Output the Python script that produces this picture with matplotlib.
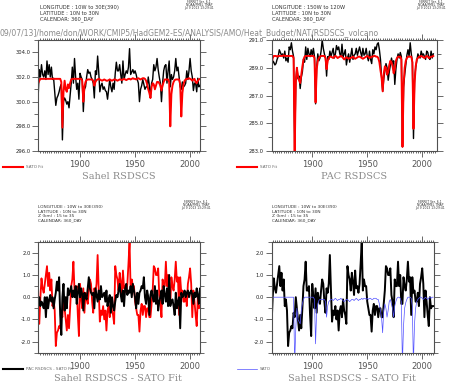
import numpy as np
import matplotlib
matplotlib.use("Agg")
import matplotlib.pyplot as plt
from matplotlib.ticker import MultipleLocator, FormatStrFormatter
from matplotlib.lines import Line2D

W, H = 450, 382

years = np.arange(1862, 2011)

# Sahel RSDSCS (top left, black)
sahel_rsds = [
    300.5, 302.6, 302.0, 303.0, 302.2, 302.0, 302.5, 301.8, 303.3, 302.2,
    303.0, 302.0, 302.8, 301.8, 301.9, 300.8, 299.7, 300.3, 300.5, 300.8,
    301.2, 301.4, 296.9, 300.0, 300.3, 300.1, 299.8, 300.0, 299.5, 300.5,
    301.5, 302.8, 301.5, 303.5, 302.0, 301.0, 301.5, 300.2, 302.3, 302.0,
    301.8, 299.2, 301.0, 301.2, 302.0, 302.6, 302.3, 302.4, 302.0, 301.8,
    301.5, 300.3, 302.5, 302.2, 303.7, 302.4, 300.8, 301.3, 301.5, 301.0,
    301.2, 300.9, 300.8, 300.2, 301.0, 301.8, 301.2, 300.8, 301.5, 301.0,
    302.3, 303.2, 302.5, 302.5, 303.0, 302.2, 301.5, 303.3, 301.8, 302.2,
    302.5, 302.3, 302.8, 304.3, 302.2, 302.4, 302.6, 302.3, 302.5, 302.2,
    301.8, 301.5, 300.0, 301.0, 301.3, 301.8, 301.4, 301.0, 301.2, 301.2,
    302.0, 301.3, 300.3, 301.5, 301.8, 303.0, 302.5, 302.8, 303.5, 302.6,
    302.0, 301.5, 300.0, 301.5, 302.5, 302.9, 303.0, 301.5, 302.5, 303.3,
    301.2, 302.2, 301.8, 302.0, 302.5, 303.5, 302.5, 302.8, 302.0, 301.2,
    301.0, 301.6, 301.2, 301.3, 301.5, 302.5, 301.8, 302.5, 303.5, 302.5,
    302.0, 300.9, 301.5, 301.5, 300.8, 301.9, 301.2, 301.3, 301.5,
]

# SATO fit for Sahel (top left, red)
sahel_fit = [
    301.5, 301.7, 301.85, 301.85, 301.85, 301.85, 301.85, 301.85, 301.85, 301.85,
    301.85, 301.85, 301.85, 301.85, 301.85, 301.85, 301.85, 301.85, 301.85, 301.85,
    301.85, 301.6, 297.9, 300.8, 301.7, 301.0, 300.8, 301.4, 301.1, 301.5,
    301.8, 301.85, 301.85, 301.85, 301.85, 301.85, 301.85, 301.85, 301.85, 301.85,
    301.7, 300.0, 301.2, 301.6, 301.75, 301.8, 301.8, 301.8, 301.8, 301.8,
    301.7, 301.3, 301.6, 301.75, 301.8, 301.85, 301.8, 301.75, 301.7, 301.75,
    301.8, 301.75, 301.7, 301.7, 301.75, 301.8, 301.75, 301.7, 301.75, 301.8,
    301.8, 301.75, 301.7, 301.75, 301.8, 301.8, 301.75, 301.8, 301.85, 301.8,
    301.75, 301.8, 301.85, 301.85, 301.8, 301.85, 301.9, 301.85, 301.85, 301.8,
    301.85, 301.9, 301.85, 301.8, 301.85, 301.9, 301.9, 301.85, 301.7, 301.4,
    301.0, 300.7, 300.3, 301.2, 301.5, 301.4, 301.0, 301.3, 301.6, 301.6,
    301.5, 301.3, 300.9, 301.3, 301.6, 301.8, 301.8, 301.8, 301.8, 301.6,
    298.0, 300.6, 301.3, 301.6, 301.75, 301.8, 301.8, 301.8, 301.8, 301.4,
    298.8, 300.7, 301.4, 301.7, 301.8, 301.85, 301.85, 301.9, 301.85, 301.8,
    301.7, 301.8, 301.85, 301.6, 301.5, 301.7, 301.8, 301.85, 301.85,
]

# PAC RSDSCS (top right, black)
pac_rsds = [
    288.6, 288.7, 289.5, 289.4, 289.2, 289.3, 289.6, 289.8, 290.3, 290.1,
    289.9, 290.0, 289.7, 290.2, 289.5, 289.7, 289.4, 290.5, 290.3, 290.8,
    290.2, 289.8, 282.9, 288.0, 289.0, 288.2, 288.4, 287.5, 288.3, 288.7,
    289.6, 289.4, 290.5, 289.6, 290.4, 290.0, 289.8, 290.3, 289.9, 290.4,
    289.8, 286.4, 289.0, 290.0, 289.5, 289.7, 290.2, 291.0, 290.4, 290.0,
    289.7, 288.4, 289.8, 289.6, 290.2, 289.8, 290.1, 290.4, 289.7, 290.0,
    290.6, 290.3, 290.5, 290.0, 289.8, 290.7, 289.8, 290.0, 290.3, 289.2,
    289.7, 290.0, 289.4, 289.9, 290.4, 289.6, 289.9, 290.0, 290.4, 289.9,
    290.2, 290.5, 290.1, 289.8, 290.4, 289.9, 290.0, 290.4, 289.8, 289.5,
    290.2, 289.6, 289.3, 290.3, 290.0, 290.5, 290.3, 290.7, 290.8, 290.3,
    289.6, 288.3, 287.3, 288.2, 288.8, 289.3, 289.0, 288.1, 288.7, 289.2,
    289.7, 289.3, 289.5, 287.8, 288.9, 289.6, 290.0, 289.7, 290.1, 289.8,
    283.3, 287.6, 288.5, 289.2, 289.9, 290.3, 289.8, 290.8, 290.0, 289.4,
    283.9, 288.2, 289.0, 289.5, 290.0, 289.8, 289.7, 290.2, 289.9, 290.0,
    289.8, 289.6, 290.2, 290.1, 289.7, 289.6, 290.2, 289.7, 290.0,
]

# SATO fit for PAC (top right, red)
pac_fit = [
    289.1, 289.3, 289.7, 289.85, 289.85, 289.85, 289.8, 289.85, 289.85, 289.85,
    289.85, 289.85, 289.9, 289.85, 289.85, 289.85, 289.85, 289.85, 289.85, 289.85,
    289.85, 289.7, 282.9, 288.0, 289.0, 288.4, 288.1, 287.9, 288.5, 289.1,
    289.6, 289.8, 289.85, 289.85, 289.85, 289.85, 289.85, 289.85, 289.85, 289.85,
    289.7, 286.5, 288.9, 289.5, 289.7, 289.8, 289.85, 289.85, 289.85, 289.85,
    289.7, 288.9, 289.5, 289.7, 289.8, 289.8, 289.75, 289.7, 289.8, 289.85,
    289.8, 289.7, 289.75, 289.8, 289.85, 289.8, 289.7, 289.6, 289.7, 289.75,
    289.7, 289.65, 289.7, 289.7, 289.75, 289.8, 289.7, 289.65, 289.7, 289.75,
    289.8, 289.8, 289.75, 289.7, 289.65, 289.7, 289.75, 289.8, 289.85, 289.8,
    289.7, 289.75, 289.8, 289.8, 289.85, 289.85, 289.8, 289.8, 289.7, 289.4,
    288.8, 288.3, 287.3, 288.6, 289.1, 289.0, 288.5, 288.7, 289.2, 289.5,
    289.4, 289.1, 288.6, 288.9, 289.5, 289.7, 289.8, 289.8, 289.8, 289.6,
    283.3, 287.8, 289.0, 289.5, 289.7, 289.8, 289.8, 289.8, 289.8, 289.4,
    284.6, 287.9, 289.1, 289.6, 289.7, 289.8, 289.8, 289.85, 289.8, 289.75,
    289.7, 289.8, 289.85, 289.8, 289.7, 289.75, 289.8, 289.8, 289.85,
]

# Sahel RSDSCS - SATO Fit (bottom left red, bottom right black)
sahel_res = [
    -0.3, -1.2, 0.0, 0.85, 0.4, 0.2, 0.6, 1.0, 1.4, 0.5,
    1.1, 0.3, 0.8, -0.4, -0.1, -0.6, -2.2, -1.6, -1.5, -1.3,
    -1.4, -0.7, -0.9, 0.0, -0.5, -1.0, -1.5, -0.8, -1.4, -0.5,
    0.5, 0.8, 1.6, 0.3, 0.3, 0.5, -0.8, -1.75, 0.6, 0.0,
    -0.5, 0.4, -0.7, 0.2, -0.1, -0.3, 0.3, 0.8, 0.6, -0.2,
    -0.7, 0.4, 0.2, 0.6, 1.9, 0.3, -1.1, -0.6, -0.8, -0.4,
    -1.0, -0.6, -1.5, -0.6, -0.4, -0.9, -0.1, -0.6, -0.8, -1.2,
    1.4, 1.0, 0.8, 0.3, 1.1, 0.7, 0.1, 1.2, 0.4, 0.5,
    0.2, 0.6, 1.5, 2.5, 0.3, 0.8, 0.5, 0.5, -0.2, -0.5,
    -0.8, -0.8, -1.55, -0.6, -0.3, -0.8, -0.4, -0.4, -0.9, -0.5,
    -0.5, -0.9, -0.9, -0.3, 0.3, 1.4, 1.3, 1.0, 1.0, 1.3,
    0.1, -0.2, -0.9, 0.8, 0.5, 0.5, 1.6, 0.5, 1.0, -0.3,
    -0.3, 0.9, 0.5, 0.3, 0.8, 1.6, 0.7, 0.9, -0.8, 0.9,
    0.2, 0.3, -0.2, -0.2, 0.2, -0.4, 0.6, 0.9, 1.3, 0.6,
    -0.9, 0.3, -0.2, -0.8, -1.3, 0.0, -0.5, -0.4, -0.4,
]

# PAC RSDSCS - SATO Fit (bottom left, black)
pac_res = [
    -0.3, 0.0, -0.4, -0.2, -0.3, -0.5, 0.0, -0.9, 0.0, -0.5,
    -0.1, 0.1, -0.2, 0.0, -0.5, -0.1, 0.2, 0.7, 0.3, 0.9,
    -0.8, -1.7, 0.0, 0.6, -0.6, 0.0, -0.5, 0.4, 0.1, 0.3,
    0.5, 0.0, 0.3, 0.0, 0.5, -0.3, 0.2, 0.6, 0.0, 0.4,
    0.1, -0.6, 0.2, 0.0, -0.1, 0.4, 0.9, 0.4, 0.2, 0.1,
    0.2, -0.5, 0.4, 0.1, -0.2, 0.3, -0.1, 0.5, 0.0, 0.1,
    0.2, -0.2, 0.3, -0.4, -0.1, 0.1, -0.7, 0.0, -0.4, -0.6,
    -0.2, 0.1, 0.0, 0.3, 0.6, 0.1, -0.2, 0.3, -0.4, 0.4,
    0.6, 0.1, 0.3, 0.2, 0.5, 0.0, 0.6, 0.3, 0.0, -0.5,
    0.2, -0.3, 0.2, 0.3, 0.5, 0.4, 0.9, 0.0, -0.3, 0.3,
    0.0, -0.8, 0.1, 0.3, 0.0, -0.2, 0.5, -0.3, 0.3, -0.6,
    -0.2, 0.0, 0.3, -0.3, 0.5, 0.1, -0.2, 0.4, -0.4, 1.0,
    -0.4, -0.2, -0.1, -0.4, -0.8, 0.2, -0.5, -0.2, 0.0, -1.4,
    0.2, 0.0, 0.1, 0.3, 0.0, 0.2, 0.3, 0.0, 0.2, 0.3,
    0.1, -0.3, 0.2, 0.0, 0.4, 0.1, -0.3, 0.4, 0.3,
]

# SATO index (bottom right, blue)
sato = [
    -0.35, -0.2, 0.0, 0.0, 0.0, 0.0, 0.0, 0.0, 0.0, 0.0,
    0.0, 0.0, 0.0, 0.0, 0.0, 0.0, 0.0, 0.0, 0.0, 0.0,
    0.0, 0.0, -3.0, -1.4, -0.5, -1.0, -1.1, -1.2, -0.6, -0.3,
    -0.1, 0.0, 0.0, 0.0, 0.0, 0.0, 0.0, 0.0, 0.0, 0.0,
    -0.1, -2.1, -0.6, -0.3, -0.15, -0.1, -0.1, -0.1, -0.1, -0.1,
    -0.2, -0.9, -0.4, -0.2, -0.15, -0.1, -0.1, -0.15, -0.1, -0.05,
    -0.1, -0.15, -0.1, -0.1, -0.05, -0.1, -0.15, -0.2, -0.15, -0.1,
    -0.1, -0.15, -0.2, -0.15, -0.1, -0.1, -0.15, -0.1, -0.05, -0.1,
    -0.15, -0.1, -0.1, -0.05, -0.1, -0.05, -0.05, -0.1, -0.05, -0.1,
    -0.05, -0.05, -0.1, -0.1, -0.05, -0.05, -0.05, -0.1, -0.1, -0.3,
    -0.6, -0.9, -1.6, -0.6, -0.3, -0.5, -0.9, -0.6, -0.2, -0.1,
    -0.3, -0.5, -0.9, -0.4, -0.2, -0.05, 0.0, 0.0, -0.05, -0.2,
    -3.0, -1.3, -0.5, -0.25, -0.1, 0.0, 0.0, 0.0, -0.05, -0.4,
    -3.0, -1.2, -0.5, -0.2, -0.1, -0.05, 0.0, 0.0, -0.05, -0.1,
    -0.05, 0.0, -0.05, -0.1, -0.05, 0.0, -0.05, 0.0, 0.0,
]

path_title = "09/07/13]/home/don/WORK/CMIP5/HadGEM2-ES/ANALYSIS/AMO/Heat_Budget/NAT/RSDSCS_volcano"
stamp = ["FERRET Ver. 6.1", "NOAA/PMEL TMAP", "Jul 9 2013 13:29:41"]
hdr_sahel = ["LONGITUDE : 10W to 30E(390)", "LATITUDE : 10N to 30N", "CALENDAR: 360_DAY"]
hdr_pac = ["LONGITUDE : 150W to 120W", "LATITUDE : 10N to 30N", "CALENDAR: 360_DAY"]
hdr_res = ["LONGITUDE : 10W to 30E(390)", "LATITUDE : 10N to 30N",
           "Z (km) : 15 to 35", "CALENDAR: 360_DAY"]

GREY = "#8a8a8a"
AXC = "#505050"


def fx(x):
    return x / W


def fy(y):
    return 1 - y / H


def add_ax(fig, left, right, top, bottom):
    return fig.add_axes([fx(left), fy(bottom), fx(right) - fx(left), fy(top) - fy(bottom)])


def style(ax, xlim, ylim, ymaj, ymin, yoff=0.0):
    ax.set_xlim(*xlim)
    ax.set_ylim(*ylim)
    ax.xaxis.set_major_locator(MultipleLocator(50))
    ax.xaxis.set_minor_locator(MultipleLocator(2))
    ax.yaxis.set_major_locator(MultipleLocator(ymaj, offset=yoff))
    ax.yaxis.set_minor_locator(MultipleLocator(ymin))
    ax.yaxis.set_major_formatter(FormatStrFormatter("%.1f"))
    ax.tick_params(which="both", direction="out", top=True, right=True,
                   colors=AXC, width=0.6)
    ax.xaxis.set_tick_params(which="major", length=4, labelsize=6, pad=2.5,
                             labelcolor="#555555")
    ax.xaxis.set_tick_params(which="minor", length=1.5)
    ax.yaxis.set_tick_params(which="major", length=4, labelsize=3.8, pad=1.5,
                             labelcolor="#222222")
    ax.yaxis.set_tick_params(which="minor", length=3)
    for s in ax.spines.values():
        s.set_color(AXC)
        s.set_linewidth(0.8)


def header(fig, x, y0, lines, size, step):
    for i, t in enumerate(lines):
        fig.text(fx(x), fy(y0 + i * step), t, fontsize=size, color="#333333",
                 ha="left", va="center")


def ferret_stamp(fig, x, y0):
    for i, t in enumerate(stamp):
        fig.text(fx(x), fy(y0 + i * 2.8), t, fontsize=2.2, color="#333333",
                 ha="center", va="center")


def legend_line(fig, x, y, color, lw, label):
    fig.add_artist(Line2D([fx(x), fx(x + 20)], [fy(y), fy(y)], color=color, lw=lw))
    fig.text(fx(x + 23), fy(y), label, fontsize=3, color="#666666",
             ha="left", va="center")


def title(fig, x, y, t):
    fig.text(fx(x), fy(y), t, fontsize=7, family="DejaVu Serif", color=GREY,
             ha="center", va="center")


fig = plt.figure(figsize=(W / 100, H / 100), dpi=100)

# top left: Sahel
ax1 = add_ax(fig, 38.3, 200, 40, 151)
ax1.plot(years, sahel_rsds, color="black", lw=1.0)
ax1.plot(years, sahel_fit, color="red", lw=1.4)
style(ax1, (1862.1, 2009.0), (296, 305), 2, 1)

# top right: PAC
ax2 = add_ax(fig, 271.7, 436.7, 40, 151)
ax2.plot(years, pac_rsds, color="black", lw=1.0)
ax2.plot(years, pac_fit, color="red", lw=1.4)
style(ax2, (1863.1, 2013.1), (283, 291), 2, 1, yoff=1)

# bottom left: residuals
ax3 = add_ax(fig, 38.3, 200, 241.7, 352.7)
ax3.plot(years, sahel_res, color="red", lw=1.3)
ax3.plot(years, pac_res, color="black", lw=1.4)
style(ax3, (1862.1, 2009.0), (-2.5, 2.5), 1, 0.5)

# bottom right: residual vs SATO
ax4 = add_ax(fig, 271.7, 434.3, 241.7, 352.7)
ax4.plot(years, sahel_res, color="black", lw=1.4)
ax4.plot(years, sato, color="#5050ff", lw=0.5)
style(ax4, (1863.1, 2011.0), (-2.5, 2.5), 1, 0.5)

fig.text(0, fy(33), path_title, fontsize=5.5, color=GREY, ha="left", va="center")

header(fig, 40, 7.3, hdr_sahel, 3.7, 6)
header(fig, 272, 7.3, hdr_pac, 3.7, 6)
header(fig, 38, 207.3, hdr_res, 3.1, 4.5)
header(fig, 272, 207.3, hdr_res, 3.1, 4.5)

ferret_stamp(fig, 199, 2)
ferret_stamp(fig, 431, 2)
ferret_stamp(fig, 196, 202)
ferret_stamp(fig, 430, 202)

legend_line(fig, 3, 167.3, "red", 1.5, "SATO Fit")
legend_line(fig, 237, 167.3, "red", 1.5, "SATO Fit")
legend_line(fig, 3, 369.3, "black", 1.5, "PAC RSDSCS - SATO Fit")
legend_line(fig, 237, 369.3, "#5050ff", 0.5, "SATO")

title(fig, 119, 176.7, "Sahel RSDSCS")
title(fig, 354, 176.7, "PAC RSDSCS")
title(fig, 118, 378.3, "Sahel RSDSCS - SATO Fit")
title(fig, 352, 378.3, "Sahel RSDSCS - SATO Fit")

fig.savefig("out.png", dpi=100)
